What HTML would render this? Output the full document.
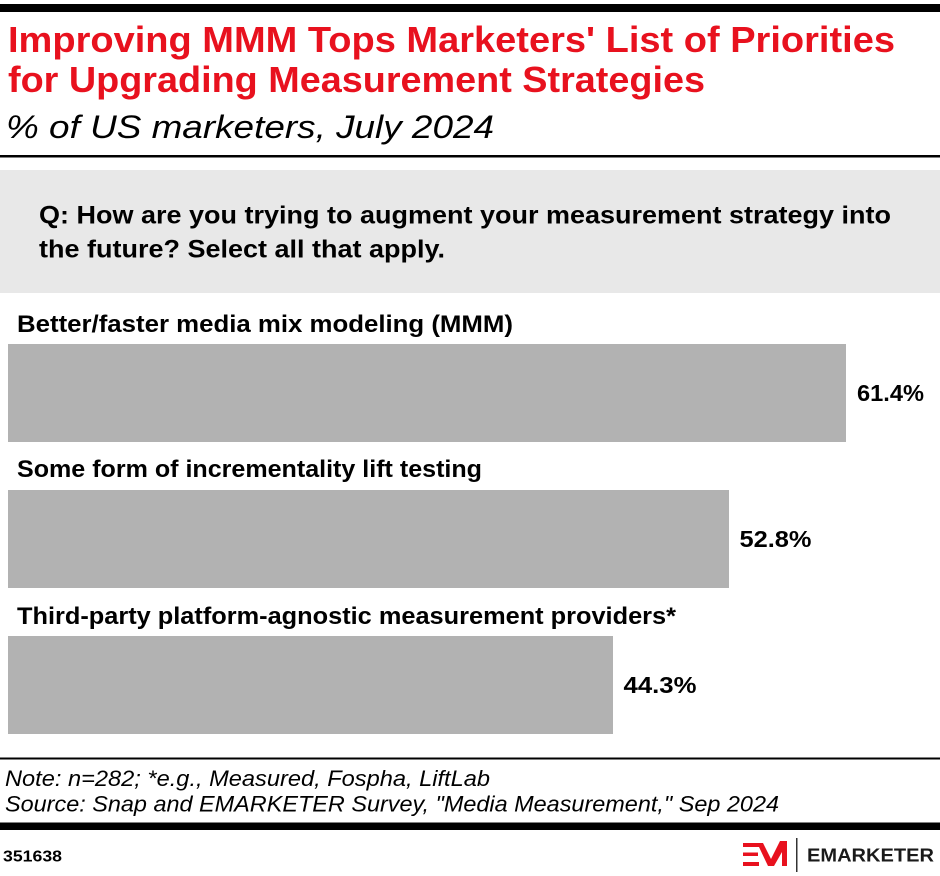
<!DOCTYPE html>
<html>
<head>
<meta charset="utf-8">
<style>
  html, body { margin: 0; padding: 0; background: #ffffff; }
  body { width: 940px; height: 876px; overflow: hidden; }
  svg { display: block; }
  .t { font-family: "Liberation Sans", Arial, sans-serif; }
</style>
</head>
<body>
<svg width="940" height="876" viewBox="0 0 940 876" xmlns="http://www.w3.org/2000/svg">
  <rect x="0" y="0" width="940" height="876" fill="#ffffff"/>

  <!-- top black bar -->
  <rect x="0" y="4" width="940" height="8" fill="#000000"/>

  <!-- title -->
  <text class="t" x="8" y="52" font-size="36.5" font-weight="bold" fill="#e8111e" textLength="887" lengthAdjust="spacingAndGlyphs">Improving MMM Tops Marketers' List of Priorities</text>
  <text class="t" x="8" y="92" font-size="36.5" font-weight="bold" fill="#e8111e" textLength="697" lengthAdjust="spacingAndGlyphs">for Upgrading Measurement Strategies</text>

  <!-- subtitle -->
  <text class="t" x="6" y="138" font-size="32" font-style="italic" fill="#000000" textLength="488" lengthAdjust="spacingAndGlyphs">% of US marketers, July 2024</text>

  <!-- rule under subtitle -->
  <rect x="0" y="155" width="940" height="2.5" fill="#000000"/>

  <!-- question box -->
  <rect x="0" y="170" width="940" height="123" fill="#e8e8e8"/>
  <text class="t" x="39" y="223.5" font-size="25" font-weight="bold" fill="#000000" textLength="852" lengthAdjust="spacingAndGlyphs">Q: How are you trying to augment your measurement strategy into</text>
  <text class="t" x="39" y="257.5" font-size="25" font-weight="bold" fill="#000000" textLength="406" lengthAdjust="spacingAndGlyphs">the future? Select all that apply.</text>

  <!-- bar 1 -->
  <text class="t" x="17" y="332" font-size="24" font-weight="bold" fill="#000000" textLength="496" lengthAdjust="spacingAndGlyphs">Better/faster media mix modeling (MMM)</text>
  <rect x="8" y="344" width="838" height="98" fill="#b2b2b2"/>
  <text class="t" x="857" y="401" font-size="23" font-weight="bold" fill="#000000" textLength="67" lengthAdjust="spacingAndGlyphs">61.4%</text>

  <!-- bar 2 -->
  <text class="t" x="17" y="477" font-size="24" font-weight="bold" fill="#000000" textLength="465" lengthAdjust="spacingAndGlyphs">Some form of incrementality lift testing</text>
  <rect x="8" y="490" width="721" height="98" fill="#b2b2b2"/>
  <text class="t" x="739.5" y="547" font-size="23" font-weight="bold" fill="#000000" textLength="72" lengthAdjust="spacingAndGlyphs">52.8%</text>

  <!-- bar 3 -->
  <text class="t" x="17" y="624" font-size="24" font-weight="bold" fill="#000000" textLength="659" lengthAdjust="spacingAndGlyphs">Third-party platform-agnostic measurement providers*</text>
  <rect x="8" y="636" width="605" height="98" fill="#b2b2b2"/>
  <text class="t" x="623.5" y="693" font-size="23" font-weight="bold" fill="#000000" textLength="73" lengthAdjust="spacingAndGlyphs">44.3%</text>

  <!-- footer rule -->
  <rect x="0" y="757.5" width="940" height="2" fill="#000000"/>

  <!-- notes -->
  <text class="t" x="5" y="786" font-size="22" font-style="italic" fill="#000000" textLength="485" lengthAdjust="spacingAndGlyphs">Note: n=282; *e.g., Measured, Fospha, LiftLab</text>
  <text class="t" x="5" y="811.5" font-size="22" font-style="italic" fill="#000000" textLength="774" lengthAdjust="spacingAndGlyphs">Source: Snap and EMARKETER Survey, "Media Measurement," Sep 2024</text>

  <!-- thick bottom bar -->
  <rect x="0" y="822.5" width="940" height="7.5" fill="#000000"/>

  <!-- chart id -->
  <text class="t" x="3" y="861.5" font-size="16" font-weight="bold" fill="#000000" textLength="59" lengthAdjust="spacingAndGlyphs">351638</text>

  <!-- logo mark -->
  <g fill="#e8111e">
    <rect x="743" y="843" width="16" height="4"/>
    <rect x="743" y="852.5" width="15" height="3.5"/>
    <rect x="743" y="862" width="16" height="4"/>
    <polygon points="757,843 763,843 771,859 780,841 787,841 787,866 782,866 782,852 774,866 768,866 759,847"/>
  </g>
  <rect x="796" y="838" width="1.5" height="34" fill="#333333"/>
  <text class="t" x="807" y="861.5" font-size="18.5" font-weight="bold" fill="#1a1a1a" textLength="127" lengthAdjust="spacingAndGlyphs">EMARKETER</text>
</svg>
</body>
</html>
